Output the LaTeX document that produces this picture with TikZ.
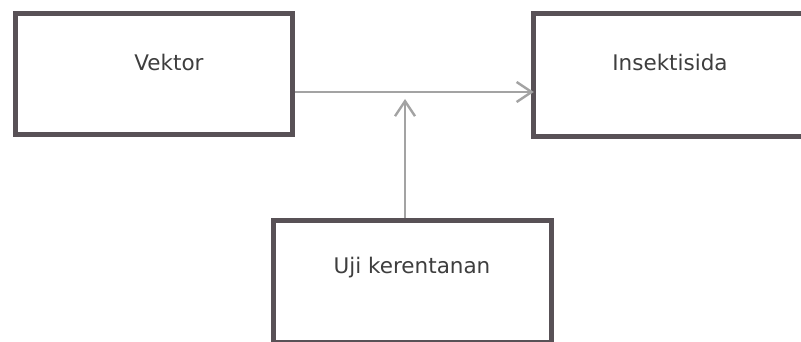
\documentclass[tikz,border=0pt]{standalone}
\usepackage{fontspec}
\setmainfont{DejaVu Sans}
\usetikzlibrary{arrows.meta}
\definecolor{boxline}{HTML}{585156}
\definecolor{arrowgray}{HTML}{A3A3A3}
\definecolor{txt}{HTML}{3E3E3E}
\begin{document}
\begin{tikzpicture}[x=1pt,y=-1pt,
  box/.style={draw=boxline,line width=5pt,fill=white,rectangle,inner sep=0pt},
  openbox/.style={draw=boxline,line width=5pt,line join=miter},
  lbl/.style={text=txt,font=\fontsize{21.5}{25}\selectfont,inner sep=0pt},
  conn/.style={draw=arrowgray,line width=2.6pt,-{Straight Barb[length=15pt,width=20pt,line width=2.4pt]}}]
\useasboundingbox (0,0) rectangle (801,342);
\fill[white] (0,0) rectangle (801,342);
% boxes
\node[box,minimum width=277pt,minimum height=121pt] (vektor) at (154,74) {};
\node[rectangle,inner sep=0pt,minimum width=267pt,minimum height=122pt] (insekt) at (667.5,75) {};
\draw[openbox] ([xshift=5pt]insekt.north east) -- (insekt.north west) -- (insekt.south west) -- ([xshift=5pt]insekt.south east);
\node[box,minimum width=278pt,minimum height=122pt] (uji) at (412,281) {};
% labels
\node[lbl] (tv) at (169,62) {Vektor};
\node[lbl] (ti) at (670,62) {Insektisida};
\node[lbl] (tu) at (412,268) {Uji kerentanan};
% connectors
\coordinate (h) at (405,92);
\coordinate (v) at (405,99);
\draw[conn] (vektor.east |- h) -- (insekt.west |- h);
\draw[conn] (uji.north -| v) -- (v);
\end{tikzpicture}
\end{document}
